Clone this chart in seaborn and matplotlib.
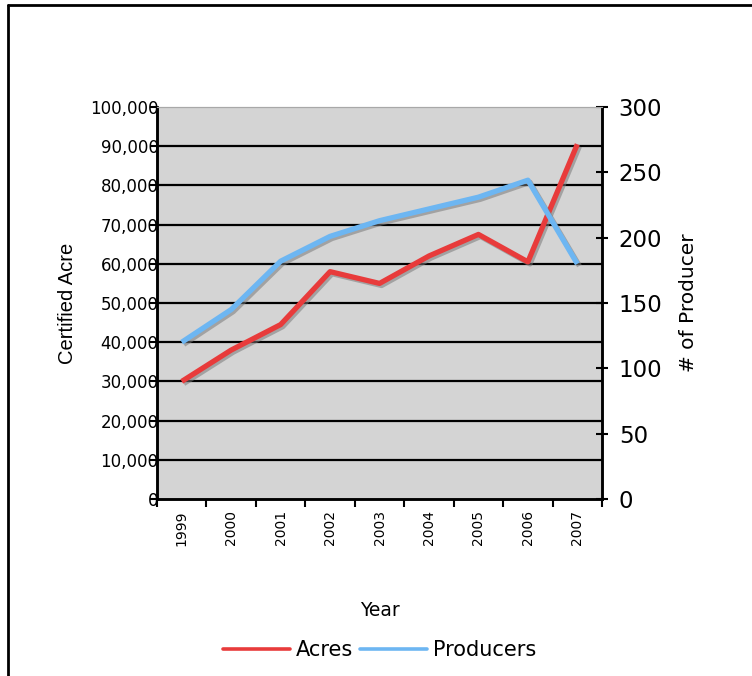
import matplotlib
matplotlib.use("Agg")
import matplotlib.pyplot as plt
import matplotlib.patheffects as pe
from matplotlib.lines import Line2D
from matplotlib.ticker import FuncFormatter
import seaborn as sns

# data
years = [1999, 2000, 2001, 2002, 2003, 2004, 2005, 2006, 2007]
acres = [30000, 38000, 44500, 58000, 55000, 62000, 67500, 60500, 90500]
producers = [120, 145, 182, 201, 213, 222, 231, 244, 180]

acre_ticks = [0, 10000, 20000, 30000, 40000, 50000, 60000, 70000, 80000, 90000, 100000]
producer_ticks = [0, 50, 100, 150, 200, 250, 300]

RED = '#e83b3b'
BLUE = '#6db6f2'

sns.set_style('white')
plt.rcParams['font.family'] = ['DejaVu Sans']
plt.rcParams['text.color'] = 'black'
plt.rcParams['axes.labelcolor'] = 'black'
plt.rcParams['xtick.color'] = 'black'
plt.rcParams['ytick.color'] = 'black'

fig = plt.figure(figsize=(7.52, 6.76), dpi=100)
ax = fig.add_axes([0.2088, 0.2618, 0.5918, 0.5799])
ax2 = ax.twinx()

shadow = [pe.SimpleLineShadow(offset=(1.5, -1.5), shadow_color='#7a7a7a', alpha=0.55), pe.Normal()]

sns.lineplot(x=years, y=acres, ax=ax, color=RED, linewidth=3.8, legend=False)
sns.lineplot(x=years, y=producers, ax=ax2, color=BLUE, linewidth=3.8, legend=False)
for line in ax.lines + ax2.lines:
    line.set_path_effects(shadow)
    line.set_solid_capstyle('butt')

ax.set_facecolor('#d4d4d4')
ax.set_xlim(years[0] - 0.5, years[-1] + 0.5)
ax.set_ylim(0, 100000)
ax2.set_ylim(0, 300)

# horizontal grid lines in black
for v in acre_ticks[1:-1]:
    ax.axhline(v, color='black', linewidth=1.6, zorder=1)

# category style x axis: ticks between years, labels centered
ax.set_xticks([y - 0.5 for y in years] + [years[-1] + 0.5])
ax.set_xticklabels([])
ax.set_xticks(years, minor=True)
ax.set_xticklabels([str(y) for y in years], minor=True, rotation=90, fontsize=10)
ax.tick_params(axis='x', which='major', direction='out', length=6, width=1.5, color='black', bottom=True)
ax.tick_params(axis='x', which='minor', length=0, pad=8, bottom=True)

ax.set_yticks(acre_ticks)
ax.yaxis.set_major_formatter(FuncFormatter(lambda v, p: f'{int(v):,}'))
ax.tick_params(axis='y', direction='out', length=5, width=1.5, color='black', left=True,
               labelsize=12, pad=-6)

ax2.set_yticks(producer_ticks)
ax2.tick_params(axis='y', direction='inout', length=8, width=1.5, color='black', right=True,
                labelsize=16.5, pad=8)

for a in (ax, ax2):
    for side in ('left', 'right', 'bottom'):
        a.spines[side].set_color('black')
        a.spines[side].set_linewidth(1.8)
    a.spines['top'].set_color('#a8a8a8')
    a.spines['top'].set_linewidth(0.8)

ax.set_xlabel('Year', fontsize=13.5, labelpad=40)
ax.set_ylabel('Certified Acre', fontsize=14.5, labelpad=9, family=['Liberation Sans'])
ax2.set_ylabel('# of Producer', fontsize=14.5, labelpad=12)

handles = [Line2D([], [], color=RED, linewidth=2.6), Line2D([], [], color=BLUE, linewidth=2.6)]
fig.legend(handles, ['Acres', 'Producers'], loc='center', bbox_to_anchor=(0.505, 0.038),
           ncol=2, frameon=False, fontsize=15, handlelength=3.2, handletextpad=0.3,
           columnspacing=0.35)

# outer frame (left and top edges)
fig.add_artist(Line2D([0.0105, 0.0105], [0, 0.9926], transform=fig.transFigure,
                      color='black', linewidth=2))
fig.add_artist(Line2D([0.0105, 1.0], [0.9926, 0.9926], transform=fig.transFigure,
                      color='black', linewidth=2))

fig.savefig('out.png', dpi=100, facecolor='white')
